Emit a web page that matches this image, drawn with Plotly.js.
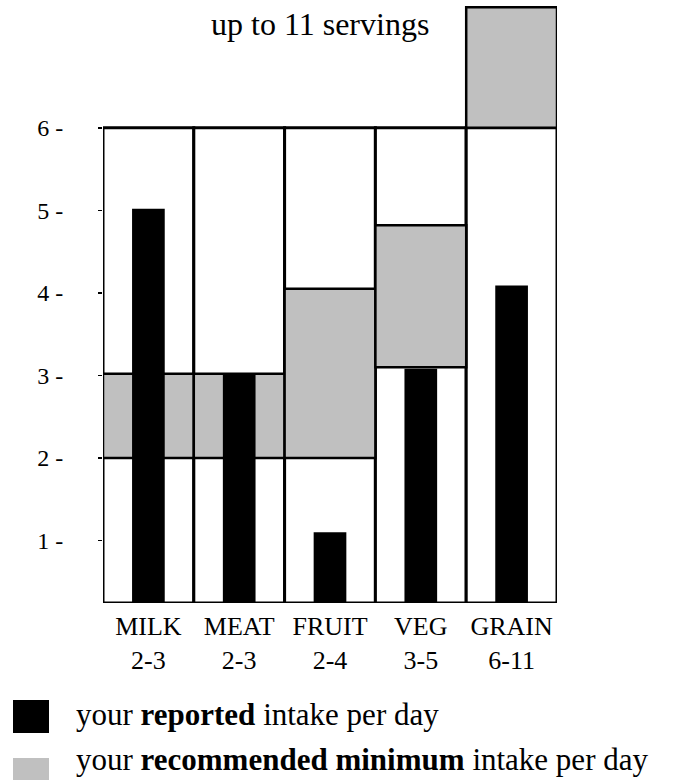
<!DOCTYPE html>
<html>
<head>
<meta charset="utf-8">
<script src="https://cdn.plot.ly/plotly-3.0.1.min.js"></script>
<style>
  html, body { margin: 0; padding: 0; background: #fff; }
  #chart { width: 677px; height: 780px; }
</style>
</head>
<body>
<div id="chart"></div>
<script>
// ---- data ----
const categories = ["MILK", "MEAT", "FRUIT", "VEG", "GRAIN"];
const ranges = ["2-3", "2-3", "2-4", "3-5", "6-11"];
const reported = [5.02, 3.02, 1.1, 3.08, 4.09];
const recLow = [2, 2, 2, 3.1, 6];
const recHigh = [3.02, 3.02, 4.05, 4.82, 7.46];
const frameTop = [6, 6, 6, 6, 6];
const yTickVals = [1, 2, 3, 4, 5, 6];
const yTickText = ["1 -", "2 -", "3 -", "4 -", "5 -", "6 -"];
const titleText = "up to 11 servings";
const legendText = ["your <b>reported</b> intake per day",
                    "your <b>recommended minimum</b> intake per day"];

const axisMin = 0.242;
const axisMax = 7.5;
const serif = "Liberation Serif, Times New Roman, serif";
const grey = "#c0c0c0";

const xLabels = categories.map((c, i) => c + "<br>" + ranges[i]);

const frameTrace = {
  type: "bar", x: categories,
  y: frameTop.map(v => v - axisMin), base: frameTop.map(() => axisMin),
  width: 1, marker: { color: "#ffffff", line: { color: "#000", width: 3 } },
  hoverinfo: "skip"
};
const recTrace = {
  type: "bar", x: categories,
  y: recHigh.map((h, i) => h - recLow[i]), base: recLow,
  width: 1, marker: { color: grey, line: { color: "#000", width: 2.5 } },
  hoverinfo: "skip"
};
const repTrace = {
  type: "bar", x: categories,
  y: reported.map(v => v - axisMin), base: reported.map(() => axisMin),
  width: 0.36, marker: { color: "#000000", line: { width: 0 } },
  hoverinfo: "skip"
};

// pixel helpers for paper coordinates (plot area: top 4px, bottom 603px)
const plotTop = 4, plotBottom = 603, plotLeft = 103, plotRight = 557;
const py = p => (plotBottom - p) / (plotBottom - plotTop);
const px = p => (p - plotLeft) / (plotRight - plotLeft);

const layout = {
  width: 677, height: 780,
  margin: { l: plotLeft, r: 677 - plotRight, t: plotTop, b: 780 - plotBottom, pad: 0 },
  paper_bgcolor: "#fff", plot_bgcolor: "#fff",
  barmode: "overlay", showlegend: false,
  font: { family: serif, color: "#000" },
  xaxis: {
    type: "category", categoryorder: "array", categoryarray: categories,
    tickvals: categories, ticktext: xLabels,
    tickfont: { family: serif, size: 26, color: "#000" },
    ticklabelstandoff: 5,
    showgrid: false, zeroline: false, showline: false, ticks: "",
    range: [-0.5, 4.5], fixedrange: true
  },
  yaxis: {
    range: [axisMin, axisMax],
    tickvals: yTickVals, ticktext: yTickText,
    tickfont: { family: serif, size: 24, color: "#000" },
    ticks: "outside", ticklen: 4, tickwidth: 1.5, tickcolor: "#000",
    ticklabelstandoff: 30,
    showgrid: false, zeroline: false, showline: false, fixedrange: true
  },
  annotations: [
    { text: titleText, xref: "paper", yref: "paper", x: px(320), y: py(24),
      xanchor: "center", yanchor: "middle", showarrow: false,
      font: { family: serif, size: 32, color: "#000" } },
    { text: legendText[0], xref: "paper", yref: "paper", x: px(74), y: py(714),
      xanchor: "left", yanchor: "middle", showarrow: false,
      font: { family: serif, size: 31, color: "#000" } },
    { text: legendText[1], xref: "paper", yref: "paper", x: px(74), y: py(759),
      xanchor: "left", yanchor: "middle", showarrow: false,
      font: { family: serif, size: 31, color: "#000" } }
  ],
  shapes: [
    { type: "rect", xref: "paper", yref: "paper",
      x0: px(13), x1: px(49), y0: py(733), y1: py(700),
      fillcolor: "#000", line: { width: 0 } },
    { type: "rect", xref: "paper", yref: "paper",
      x0: px(13), x1: px(49), y0: py(792), y1: py(758),
      fillcolor: grey, line: { width: 0 } }
  ]
};

Plotly.newPlot("chart", [frameTrace, recTrace, repTrace], layout,
  { staticPlot: true, displayModeBar: false });
</script>
</body>
</html>
